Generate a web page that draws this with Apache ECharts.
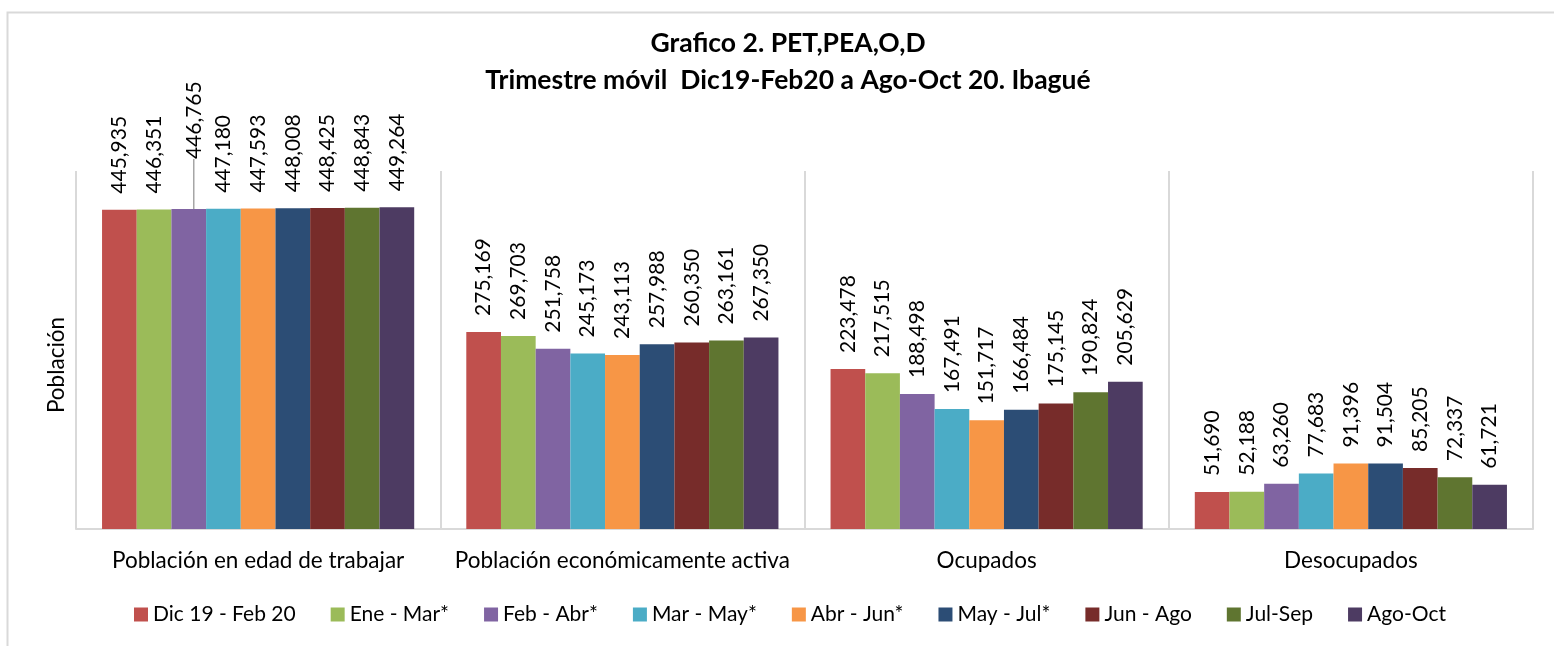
<!DOCTYPE html>
<html>
<head>
<meta charset="utf-8">
<script src="https://cdn.jsdelivr.net/npm/echarts@6/dist/echarts.min.js"></script>
<style>
html,body{margin:0;padding:0;background:#fff;}
#chart{width:1554px;height:646px;}
</style>
</head>
<body>
<div id="chart"></div>
<script>
const titleLines = ['Grafico 2. PET,PEA,O,D', 'Trimestre móvil  Dic19-Feb20 a Ago-Oct 20. Ibagué'];
const yAxisTitle = 'Población';
const categories = ['Población en edad de trabajar', 'Población económicamente activa', 'Ocupados', 'Desocupados'];
const seriesNames = ['Dic 19 - Feb 20', 'Ene - Mar*', 'Feb - Abr*', 'Mar - May*', 'Abr - Jun*', 'May - Jul*', 'Jun - Ago', 'Jul-Sep', 'Ago-Oct'];
const colors = ['#C0504D', '#9BBB59', '#8064A2', '#4BACC6', '#F79646', '#2C4D75', '#772C2A', '#5F7530', '#4D3B62'];

const dicFeb = [445935, 275169, 223478, 51690];
const eneMar = [446351, 269703, 217515, 52188];
const febAbr = [446765, 251758, 188498, 63260];
const marMay = [447180, 245173, 167491, 77683];
const abrJun = [447593, 243113, 151717, 91396];
const mayJul = [448008, 257988, 166484, 91504];
const junAgo = [448425, 260350, 175145, 85205];
const julSep = [448843, 263161, 190824, 72337];
const agoOct = [449264, 267350, 205629, 61721];
const seriesValues = [dicFeb, eneMar, febAbr, marMay, abrJun, mayJul, junAgo, julSep, agoOct];

const FONT = 'Lato';
const fmt = v => Number(v).toLocaleString('en-US');

const chart = echarts.init(document.getElementById('chart'), null, {renderer: 'canvas'});

const series = seriesNames.map((name, si) => ({
  name: name,
  type: 'bar',
  barGap: '0%',
  barCategoryGap: '14.3%',
  itemStyle: {color: colors[si]},
  data: seriesValues[si].map((v, di) => {
    const item = {value: v};
    if (si === 2 && di === 0) {
      item.labelLine = {show: true, lineStyle: {color: '#A6A6A6', width: 1.5}};
    }
    return item;
  }),
  label: {
    show: true,
    position: 'top',
    rotate: 90,
    align: 'left',
    verticalAlign: 'middle',
    distance: 16,
    fontFamily: FONT,
    fontSize: 21,
    color: '#000',
    formatter: p => fmt(p.value)
  },
  labelLine: {show: false},
  labelLayout: (params) => (si === 2 && params.dataIndex === 0) ? {dx: 34, dy: 5} : {}
}));

chart.setOption({
  animation: false,
  backgroundColor: '#fff',
  color: colors,
  title: {
    text: titleLines.join('\n'),
    left: 783,
    top: 20,
    textAlign: 'center',
    textStyle: {fontFamily: FONT, fontWeight: 'bold', fontSize: 26.5, lineHeight: 37, color: '#000'}
  },
  graphic: [
    {type: 'rect', left: 5, top: 10, shape: {width: 1600, height: 700}, style: {fill: 'none', stroke: '#D9D9D9', lineWidth: 2}, silent: true, z: -1},
    {type: 'text', x: 57, y: 365, rotation: Math.PI / 2,
     style: {text: yAxisTitle, fontFamily: FONT, fontSize: 22.5, fill: '#000', textAlign: 'center', textVerticalAlign: 'middle'}}
  ],
  legend: {
    data: seriesNames,
    left: 129,
    top: 599,
    itemWidth: 14,
    itemHeight: 14,
    itemGap: 35,
    icon: 'rect',
    textStyle: {fontFamily: FONT, fontSize: 21, color: '#000', padding: [0, 0, 0, 0]}
  },
  grid: {left: 76, right: 21, top: 171, bottom: 117, containLabel: false},
  xAxis: {
    type: 'category',
    data: categories,
    axisLine: {show: true, lineStyle: {color: '#D9D9D9', width: 2}},
    axisTick: {show: false},
    splitLine: {show: true, interval: 0, lineStyle: {color: '#D9D9D9', width: 2}},
    axisLabel: {interval: 0, margin: 20, fontFamily: FONT, fontSize: 22.5, color: '#000'}
  },
  yAxis: {
    type: 'value',
    min: 0,
    max: 500000,
    interval: 100000,
    axisLine: {show: false},
    axisTick: {show: false},
    axisLabel: {show: false},
    splitLine: {show: false}
  },
  series: series
});
</script>
</body>
</html>
